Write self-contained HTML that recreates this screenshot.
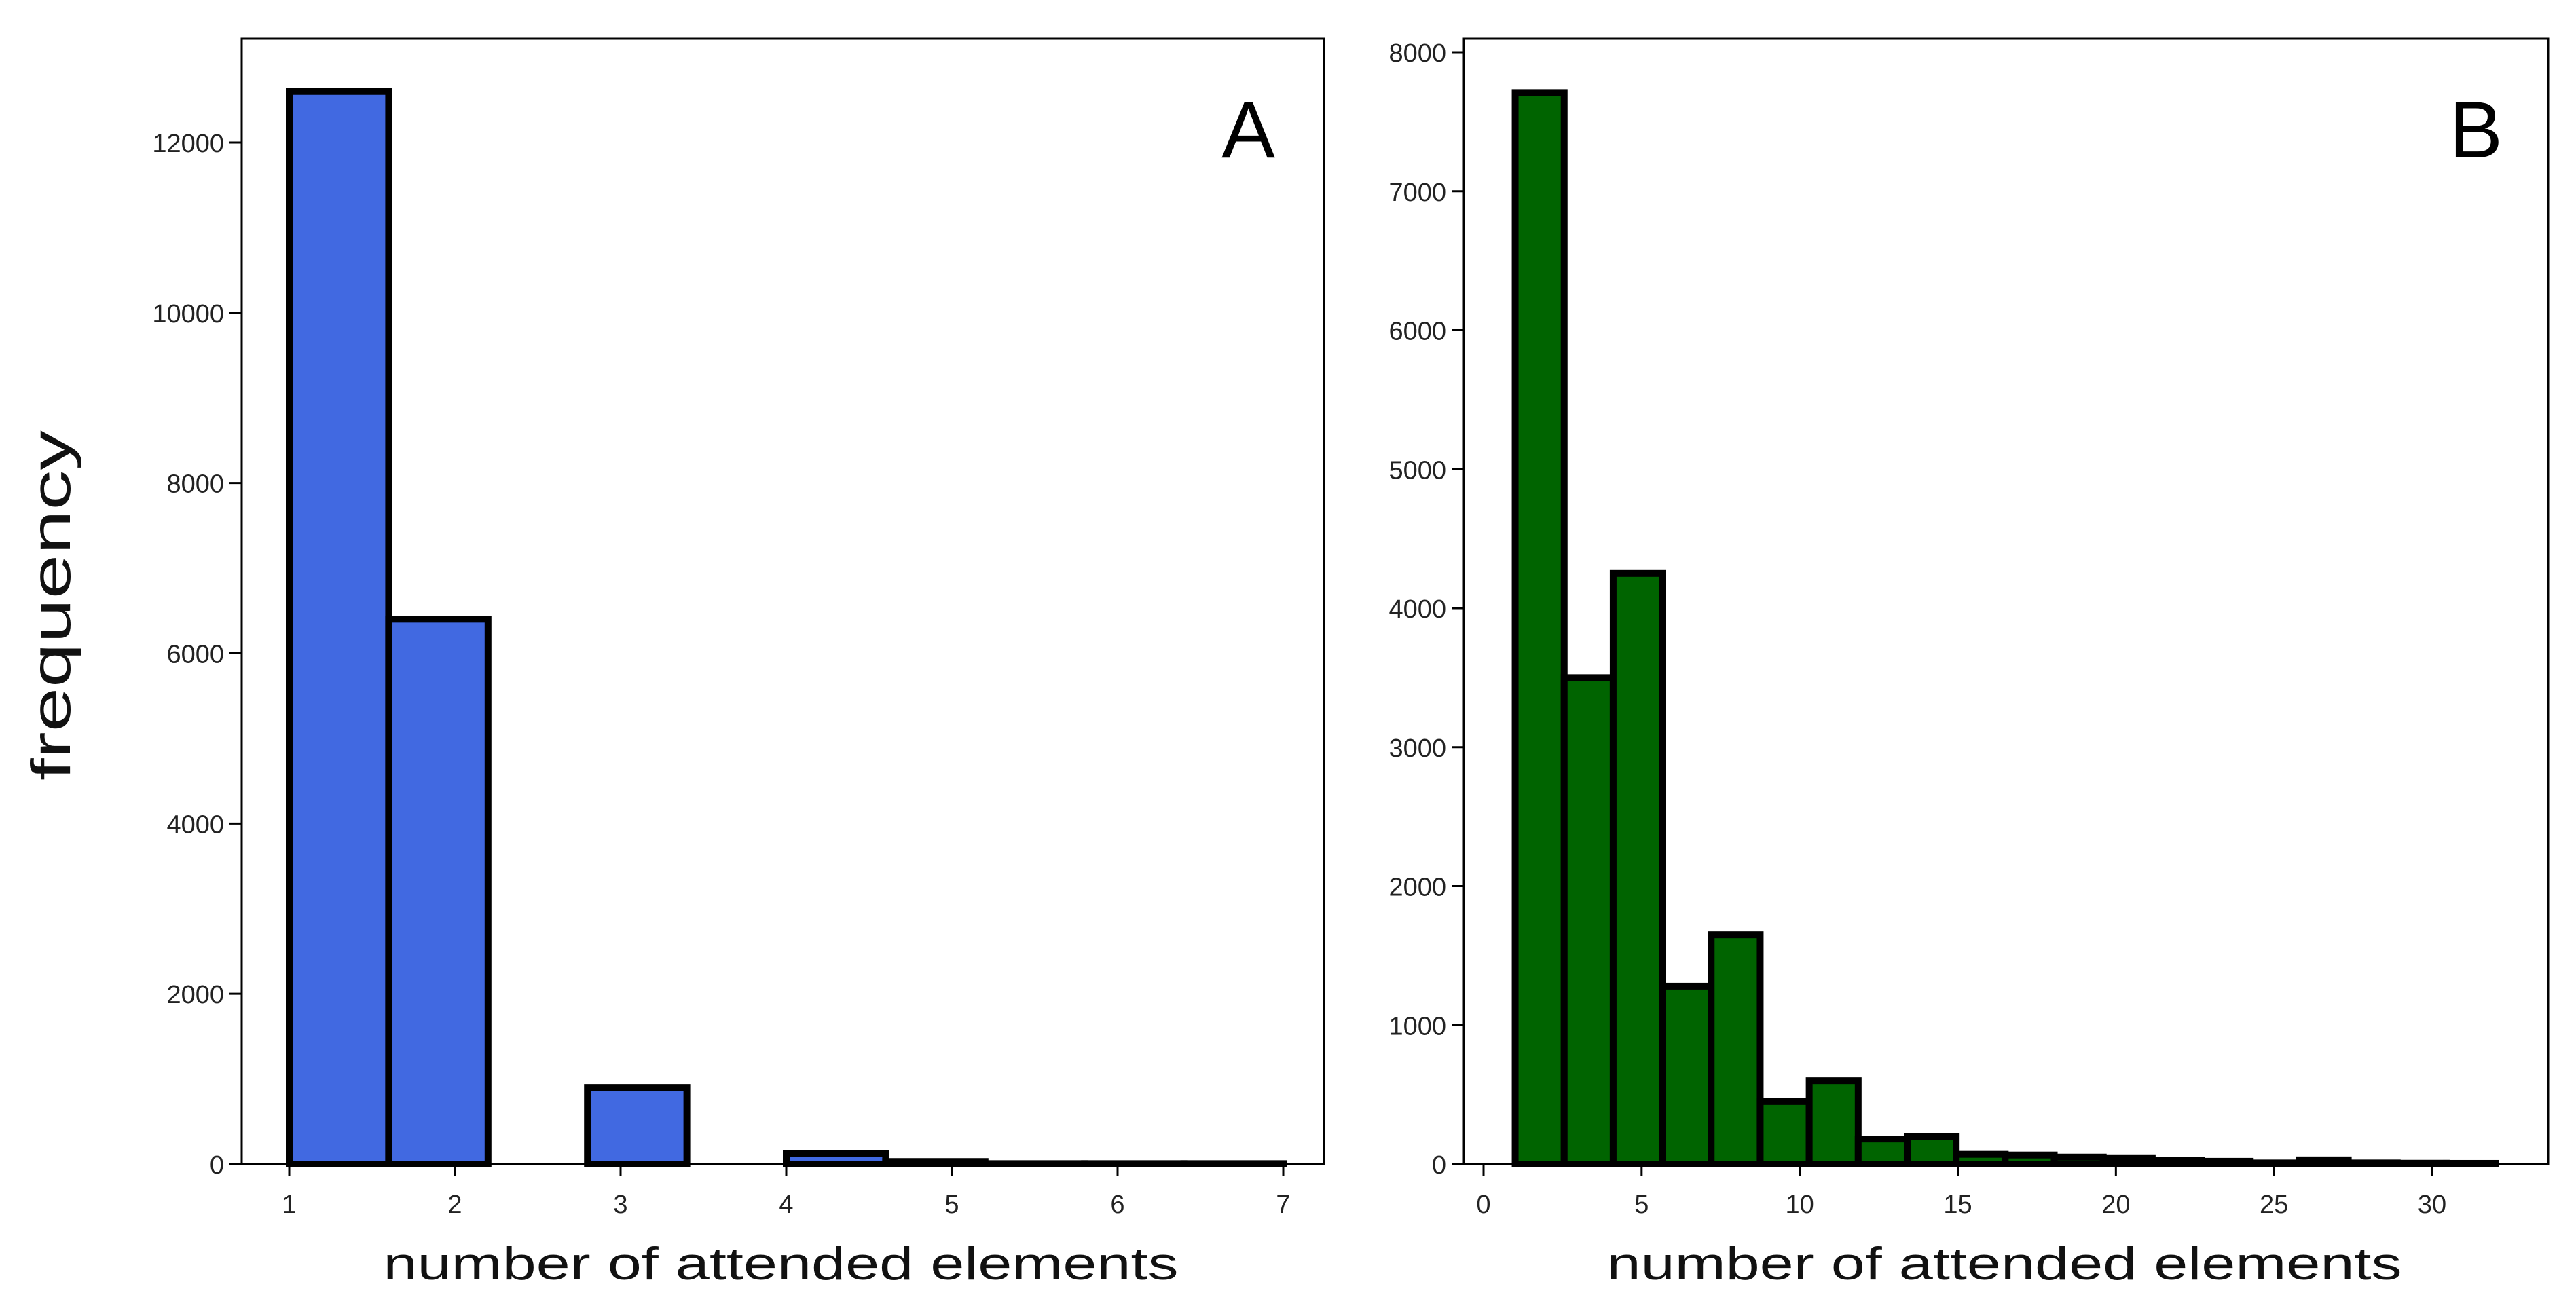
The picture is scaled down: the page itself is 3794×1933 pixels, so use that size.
<!DOCTYPE html>
<html><head><meta charset="utf-8"><style>
html,body{margin:0;padding:0;background:#fff;}
svg{display:block;}
text{font-family:"Liberation Sans","DejaVu Sans",sans-serif;}
</style></head><body>
<svg id="fig" width="3794" height="1933" viewBox="0 0 3794 1933" xmlns="http://www.w3.org/2000/svg"></svg>
<script>
// Panel A data
const binsA = [1,1.6,2.2,2.8,3.4,4.0,4.6,5.2,5.8,6.4,7.0];
const countsA = [12600,6400,0,900,0,120,30,5,5,5];
const xTicksA = [1,2,3,4,5,6,7];
const yTicksA = [0,2000,4000,6000,8000,10000,12000];
// Panel B data
const binsB = [1,2.55,4.1,5.65,7.2,8.75,10.3,11.85,13.4,14.95,16.5,18.05,19.6,21.15,22.7,24.25,25.8,27.35,28.9,30.45,32];
const countsB = [7710,3500,4250,1280,1650,450,600,180,200,70,65,50,45,25,20,8,30,8,6,5];
const xTicksB = [0,5,10,15,20,25,30];
const yTicksB = [0,1000,2000,3000,4000,5000,6000,7000,8000];

const NS = "http://www.w3.org/2000/svg";
const svg = document.getElementById('fig');
function mk(tag, attrs, parent){
  const e = document.createElementNS(NS, tag);
  for (const k in attrs) e.setAttribute(k, attrs[k]);
  (parent||svg).appendChild(e);
  return e;
}

function panel(cfg){
  const g = mk('g', {});
  
  
  const sx = v => cfg.x0 + (v - cfg.xv0) * cfg.xs;
  const sy = v => cfg.base - v * cfg.ys;
  for (let i = 0; i < cfg.counts.length; i++){
    const x1 = sx(cfg.bins[i]), x2 = sx(cfg.bins[i+1]);
    const y = sy(cfg.counts[i]);
    const r = mk('rect', {x:x1, y:y, width:x2-x1, height:cfg.base-y, fill:cfg.color, stroke:'#000', 'stroke-width':10}, g);
    
    
  }
  const box = mk('rect', {x:cfg.L, y:cfg.T, width:cfg.R-cfg.L, height:cfg.base-cfg.T, fill:'none', stroke:'#000', 'stroke-width':3}, g);
  
  
  cfg.xt.forEach(t => {
    const x = sx(t);
    mk('line', {x1:x, x2:x, y1:cfg.base, y2:cfg.base+18, stroke:'#000', 'stroke-width':3}, g);
    const tx = mk('text', {x:x, y:1787, 'font-size':38, 'font-family':'DejaVu Sans, sans-serif', 'text-anchor':'middle', fill:'#222'}, g);
    tx.textContent = t;
    
    
  });
  cfg.yt.forEach(t => {
    const y = sy(t);
    mk('line', {x1:cfg.L-18, x2:cfg.L, y1:y, y2:y, stroke:'#000', 'stroke-width':3}, g);
    const ty = mk('text', {x:cfg.L-26, y:y+14, 'font-size':38, 'font-family':'DejaVu Sans, sans-serif', 'text-anchor':'end', fill:'#222'}, g);
    ty.textContent = t;
    
    
  });
  const xl = mk('text', {x:cfg.xlx, y:1885, 'font-size':68, 'text-anchor':'middle', fill:'#111', textLength:1171, lengthAdjust:'spacingAndGlyphs'}, g);
  xl.textContent = 'number of attended elements';
  
  
  const pl = mk('text', {x:cfg.letterX, y:232, 'font-size':118, 'text-anchor':'end', fill:'#000'}, g);
  pl.textContent = cfg.letter;
  
  
}

panel({name:'panel-a', L:356, R:1950, T:57, base:1715, x0:426, xv0:1, xs:244, ys:(1715-210)/12000,
  bins:binsA, counts:countsA, xt:xTicksA, yt:yTicksA, color:'#4169e1', xlx:1150, letter:'A', letterX:1878});
panel({name:'panel-b', L:2156, R:3753, T:57, base:1715, x0:2185, xv0:0, xs:(3582-2185)/30, ys:(1715-77)/8000,
  bins:binsB, counts:countsB, xt:xTicksB, yt:yTicksB, color:'#006400', xlx:2952, letter:'B', letterX:3686});

const yl = mk('text', {x:0, y:0, 'font-size':82, 'text-anchor':'middle', fill:'#111', transform:'translate(103,892) rotate(-90)', textLength:516, lengthAdjust:'spacingAndGlyphs'});
yl.textContent = 'frequency';


</script>
</body></html>
